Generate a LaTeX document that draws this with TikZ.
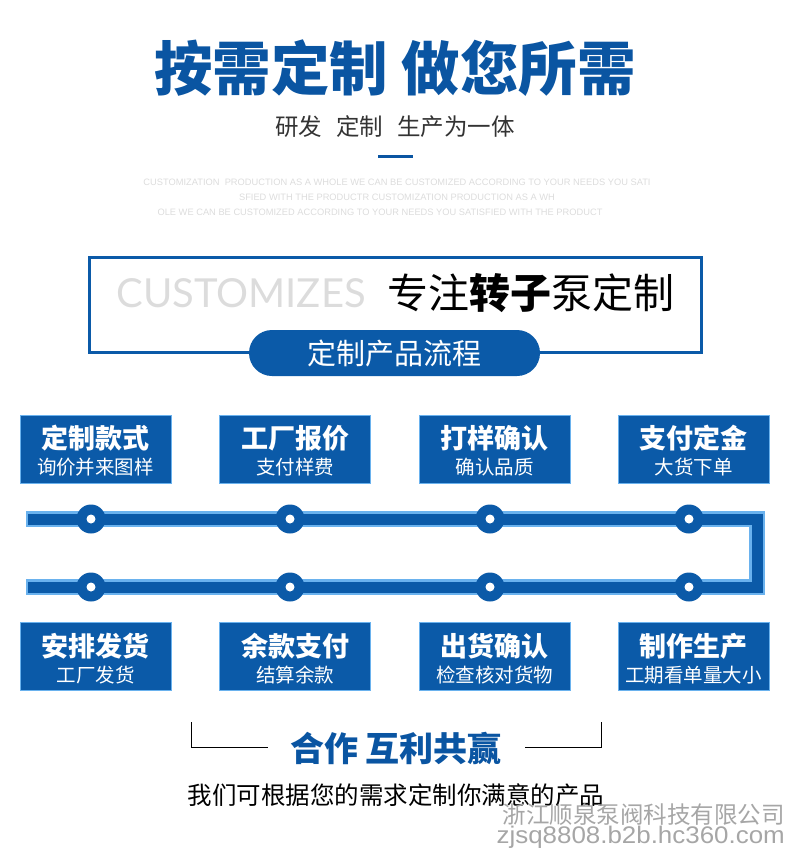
\documentclass[tikz,border=0pt]{standalone}
\usepackage{fontspec}
\newfontfamily\cjk{Noto Sans CJK SC}
\newfontfamily\latin{Lato}
\newfontfamily\smalllatin{Liberation Sans}
\newfontfamily\urlfont[FakeStretch=1.08]{Liberation Sans}
\usetikzlibrary{positioning}
\definecolor{mainblue}{HTML}{0B5AA8}
\definecolor{titleblue}{HTML}{0A55A2}
\definecolor{edgeblue}{HTML}{6AB2EE}
\definecolor{framegray}{HTML}{DCDCDC}

\begin{document}
\begin{tikzpicture}[x=1pt, y=-1pt,
  every node/.style={inner sep=0pt},
  stepbox/.style={draw=edgeblue, line width=0.8pt, fill=mainblue, minimum width=151pt, minimum height=68pt},
  steptitle/.style={text=white, font=\cjk\bfseries\fontsize{27}{27}\selectfont},
  stepnote/.style={text=white, font=\cjk\fontsize{19.5}{19.5}\selectfont},
  knot/.style={circle, fill=mainblue, minimum size=29pt},
  pipeout/.style={draw=edgeblue, line width=16pt, line join=miter},
  pipein/.style={draw=mainblue, line width=11pt, line join=miter, shorten <=2pt, shorten >=2pt},
  ghost/.style={text=framegray, font=\smalllatin\fontsize{9.3}{9.3}\selectfont}]
\useasboundingbox (0,0) rectangle (790,849);

% heading
\node[text=titleblue, font=\cjk\bfseries\fontsize{58.5}{58.5}\selectfont] (title) at (395,68) {按需定制 做您所需};
\node[text=black!80, font=\cjk\fontsize{23.5}{23.5}\selectfont] (sub) at (395,127) {研发\hspace{0.6em}定制\hspace{0.6em}生产为一体};
\coordinate (u1) at (378,156);
\coordinate (u2) at (413,156);
\draw[titleblue, line width=3pt] (u1) -- (u2);
\node[ghost] (g1) at (397,182) {CUSTOMIZATION\ \ PRODUCTION AS A WHOLE WE CAN BE CUSTOMIZED ACCORDING TO YOUR NEEDS YOU SATI};
\node[ghost] (g2) at (397,197) {SFIED WITH THE PRODUCTR CUSTOMIZATION PRODUCTION AS A WH};
\node[ghost] (g3) at (380,212) {OLE WE CAN BE CUSTOMIZED ACCORDING TO YOUR NEEDS YOU SATISFIED WITH THE PRODUCT};

% frame
\coordinate (f1) at (89,257);
\coordinate (f2) at (701,352);
\draw[mainblue, line width=3pt] (f1) rectangle (f2);
\node[text=framegray, font=\latin\fontsize{40}{40}\selectfont] (cust) at (241,293) {CUSTOMIZES};
\node[text=black, font=\cjk\fontsize{41}{41}\selectfont] (focus) at (531,293) {专注{\bfseries 转子}泵定制};
\node[fill=mainblue, rounded corners=23pt, minimum width=291pt, minimum height=46pt, text=white, font=\cjk\fontsize{29}{29}\selectfont] (flow) at (394.5,353) {定制产品流程};

% pipe
\coordinate (P1) at (26,519);
\coordinate (P2) at (757,519);
\coordinate (P3) at (757,587);
\coordinate (P4) at (26,587);
\draw[pipeout] (P1) -- (P2) -- (P3) -- (P4);
\draw[pipein] (P1) -- (P2) -- (P3) -- (P4);

\node[knot] (k1) at (91,519) {};
\node[knot] (k2) at (290,519) {};
\node[knot] (k3) at (490,519) {};
\node[knot] (k4) at (689,519) {};
\node[knot] (k5) at (91,587) {};
\node[knot] (k6) at (290,587) {};
\node[knot] (k7) at (490,587) {};
\node[knot] (k8) at (689,587) {};
\fill[white] (k1.center) circle (4.5) (k2.center) circle (4.5) (k3.center) circle (4.5) (k4.center) circle (4.5);
\fill[white] (k5.center) circle (4.5) (k6.center) circle (4.5) (k7.center) circle (4.5) (k8.center) circle (4.5);

% upper steps
\node[stepbox] (s1) at (95.5,449.5) {};
\node[steptitle] at (95.5,438) {定制款式};
\node[stepnote] at (95.5,467) {询价并来图样};
\node[stepbox] (s2) at (295,449.5) {};
\node[steptitle] at (295,438) {工厂报价};
\node[stepnote] at (295,467) {支付样费};
\node[stepbox] (s3) at (494.5,449.5) {};
\node[steptitle] at (494.5,438) {打样确认};
\node[stepnote] at (494.5,467) {确认品质};
\node[stepbox] (s4) at (693.5,449.5) {};
\node[steptitle] at (693.5,438) {支付定金};
\node[stepnote] at (693.5,467) {大货下单};

% lower steps
\node[stepbox] (s8) at (95.5,656.5) {};
\node[steptitle] at (95.5,646) {安排发货};
\node[stepnote] at (95.5,675) {工厂发货};
\node[stepbox] (s7) at (295,656.5) {};
\node[steptitle] at (295,646) {余款支付};
\node[stepnote] at (295,675) {结算余款};
\node[stepbox] (s6) at (494.5,656.5) {};
\node[steptitle] at (494.5,646) {出货确认};
\node[stepnote] at (494.5,675) {检查核对货物};
\node[stepbox] (s5) at (693.5,656.5) {};
\node[steptitle] at (693.5,646) {制作生产};
\node[stepnote] at (693.5,675) {工期看单量大小};

% closing
\coordinate (b1) at (191,722);
\coordinate (b2) at (268,747);
\coordinate (b3) at (525,747);
\coordinate (b4) at (601,722);
\draw[black, line width=0.8pt] (b1) |- (b2);
\draw[black, line width=0.8pt] (b3) -| (b4);
\node[text=titleblue, font=\cjk\bfseries\fontsize{34}{34}\selectfont] (win) at (396,748) {合作 互利共赢};
\node[text=black, font=\cjk\fontsize{24.5}{24.5}\selectfont] (promise) at (396,795) {我们可根据您的需求定制你满意的产品};
\node[text=black!35, font=\cjk\fontsize{23.5}{23.5}\selectfont, anchor=east] (mark1) at (785,815) {浙江顺泉泵阀科技有限公司};
\node[text=black!35, font=\urlfont\fontsize{24}{24}\selectfont, anchor=east] (mark2) at (785,837.5) {zjsq8808.b2b.hc360.com};
\end{tikzpicture}
\end{document}
